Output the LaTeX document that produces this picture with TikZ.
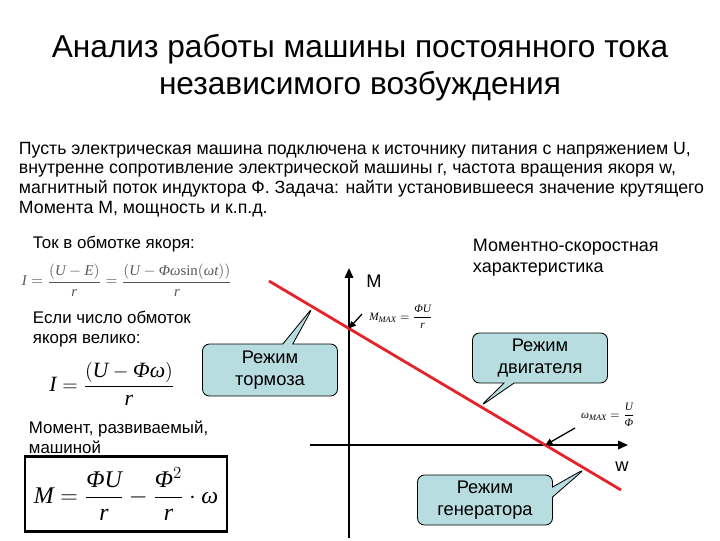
\documentclass[tikz,border=0pt]{standalone}
\usepackage{amsmath}
\usepackage{fontspec}
\setmainfont{Liberation Sans}
\newfontfamily\frm{Liberation Serif}
\usepackage{tikz}
\usetikzlibrary{arrows.meta,calc,shapes.callouts}
\definecolor{cline}{HTML}{E3242B}
\definecolor{cbox}{HTML}{B8DDE1}
\definecolor{cfrm}{HTML}{555555}
\newcommand\mi[1]{\text{\frm\itshape #1}}
\tikzset{
  txt/.style={anchor=west,font=\fontsize{12}{14}\selectfont,align=left},
  axis/.style={line width=1.3pt,-{Triangle[length=7pt,width=6pt]}},
  mode/.style={rectangle callout,draw=black,fill=cbox,rounded corners=5pt,
    line width=0.6pt,align=center,minimum width=3.375cm,minimum height=1.3cm,
    font=\fontsize{13}{15.5}\selectfont},
  hint/.style={line width=0.9pt,-{Triangle[length=5pt,width=4.5pt]}}
}
\begin{document}
\begin{tikzpicture}[x=0.025cm,y=-0.025cm]
  \useasboundingbox (0,0) rectangle (720,540);
  % title and statement
  \node[font=\fontsize{22.5}{26.5}\selectfont,align=center] (title) at (360,68)
    {Анализ работы машины постоянного тока\\независимого возбуждения};
  \node[txt,anchor=north west,font=\fontsize{12.6}{14}\selectfont] (task) at (14,137)
    {Пусть электрическая машина подключена к источнику питания с напряжением U,\\
     внутренне сопротивление электрической машины r, частота вращения якоря w,\\
     магнитный поток индуктора Ф. Задача: найти установившееся значение крутящего\\
     Момента М, мощность и к.п.д.};
  % left column
  \node[txt] (tok) at (28,244) {Ток в обмотке якоря:};
  \node[anchor=west,text=cfrm,font=\fontsize{10.5}{12}\selectfont] (frmA) at (17,280)
    {$\mi{I}=\dfrac{(\mi{U}-\mi{E})}{\mi{r}}=\dfrac{(\mi{U}-\mi{Φω}\text{\frm sin}(\mi{ωt}))}{\mi{r}}$};
  \node[txt] (esli) at (28,329) {Если число обмоток\\якоря велико:};
  \node[font=\fontsize{15.5}{18}\selectfont] (frmB) at (112,384)
    {$\mi{I}=\dfrac{(\mi{U}-\mi{Φω})}{\mi{r}}$};
  \node[txt] (moment) at (24,437) {Момент, развиваемый,\\машиной};
  \node[draw,line width=1.6pt,minimum width=5.05cm,minimum height=1.875cm,
    font=\fontsize{17}{20}\selectfont] (frmM) at (126,494)
    {$\mi{M}=\dfrac{\mi{ΦU}}{\mi{r}}-\dfrac{\mi{Φ}^{2}}{\mi{r}}\cdot\mi{ω}$};
  % characteristic
  \coordinate (O) at (349,445);
  \draw[axis] (349,538) -- (349,268) coordinate (Mtop);
  \draw[axis] (310,445) -- (628,445) coordinate (Wend);
  \node[font=\fontsize{13}{15}\selectfont] (lblM) at (374,281) {М};
  \node[font=\fontsize{13}{15}\selectfont] (lblW) at (622,467) {w};
  \node[txt,anchor=north west,font=\fontsize{12.8}{15}\selectfont] (mch) at (468,234)
    {Моментно-скоростная\\характеристика};
  \draw[cline,line width=2pt] (269,281) coordinate (rA) -- (621,490) coordinate (rB);
  \coordinate (Mmax) at ($(rA)!0.227!(rB)$);
  \coordinate (Wmax) at ($(rA)!0.785!(rB)$);
  \node[font=\fontsize{8}{10}\selectfont] (lblMmax) at (401,317)
    {$\mi{M}_{\mi{MAX}}=\dfrac{\mi{ΦU}}{\mi{r}}$};
  \node[font=\fontsize{8}{10}\selectfont] (lblWmax) at (608,415)
    {$\mi{ω}_{\mi{MAX}}=\dfrac{\mi{U}}{\mi{Φ}}$};
  \draw[hint] (362,314) -- (Mmax);
  \draw[hint] (575,428) -- (Wmax);
  % modes
  \node[mode,callout absolute pointer={($(rA)!0.125!(rB)$)}] (tormoz) at (270,370)
    {Режим\\тормоза};
  \node[mode,minimum height=1.25cm,callout absolute pointer={($(rA)!0.6!(rB)$)}] (dvig) at (540,358)
    {Режим\\двигателя};
  \node[mode,minimum height=1.25cm,callout absolute pointer={($(rA)!0.898!(rB)$)}] (gener) at (485,500)
    {Режим\\генератора};
\end{tikzpicture}
\end{document}
